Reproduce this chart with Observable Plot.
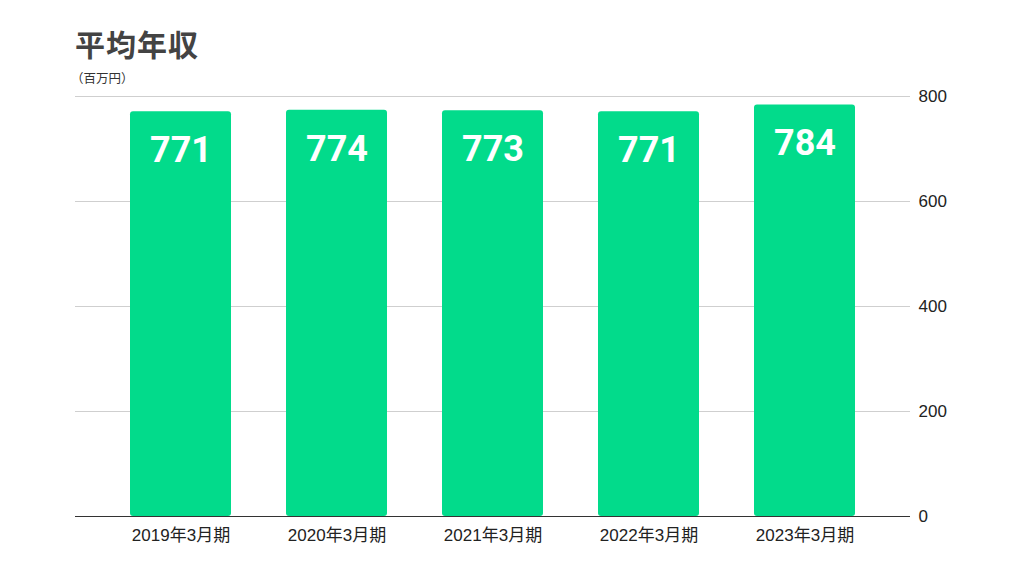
<!DOCTYPE html>
<html><head><meta charset="utf-8">
<script src="https://cdn.jsdelivr.net/npm/d3@7"></script>
<script src="https://cdn.jsdelivr.net/npm/@observablehq/plot@0.6"></script>
<style>
body{margin:0;background:#fff;font-family:"Liberation Sans","Noto Sans CJK JP",sans-serif;}
#wrap{position:relative;width:1024px;height:576px;}
#title{position:absolute;left:75px;top:28px;font-size:30px;line-height:30px;font-weight:700;color:#434343;font-family:"Noto Sans CJK JP",sans-serif;letter-spacing:1px;}
#sub{position:absolute;left:71px;top:71px;font-size:12.5px;line-height:13px;color:#333;font-family:"Noto Sans CJK JP",sans-serif;}
#chart{position:absolute;left:0;top:0;}
</style></head><body>
<div id="wrap">
<div id="title">平均年収</div>
<div id="sub">（百万円）</div>
<div id="chart"></div>
</div>
<script>
const periods = ["2019年3月期","2020年3月期","2021年3月期","2022年3月期","2023年3月期"];
const salaries = [771, 774, 773, 771, 784];
const yTicks = [0, 200, 400, 600, 800];

const data = periods.map((p, i) => ({period: p, value: salaries[i]}));
const font = '"Liberation Sans","Noto Sans CJK JP",sans-serif';

const chart = Plot.plot({
  width: 1024,
  height: 576,
  marginTop: 96,
  marginBottom: 60,
  marginLeft: 75,
  marginRight: 114,
  style: {fontFamily: font, fontSize: "17px", color: "#333", background: "transparent"},
  x: {domain: periods, padding: 0.35, label: null, tickSize: 0, tickPadding: 12},
  y: {domain: [0, 800], ticks: yTicks, label: null, grid: false},
  marks: [
    Plot.ruleY(yTicks.filter(d => d > 0), {stroke: "#cfcfcf", strokeWidth: 1}),
    Plot.barY(data, {x: "period", y: "value", fill: "#02db8b", rx: 3}),
    Plot.ruleY([0], {stroke: "#333", strokeWidth: 1.2}),
    Plot.text(data, {x: "period", y: "value", text: d => String(d.value), dy: 39, fill: "#fff", fontSize: 36, fontWeight: 700, fontFamily: "Roboto,sans-serif"}),
    Plot.axisX({tickSize: 0, tickPadding: 12, fontSize: 17, fill: "#222", fontFamily: font}),
    Plot.axisY({anchor: "right", ticks: yTicks, tickSize: 0, tickPadding: 8, fontSize: 17, fill: "#222", textAnchor: "start", fontFamily: font})
  ]
});
document.getElementById("chart").appendChild(chart);
</script>
</body></html>
